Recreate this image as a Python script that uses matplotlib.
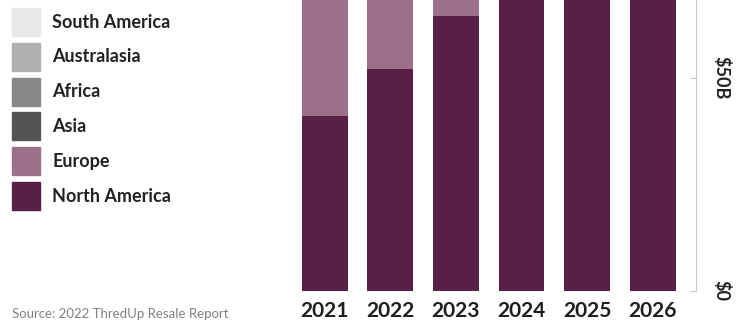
import numpy as np
import matplotlib.pyplot as plt
from matplotlib.patches import Rectangle

years = ["2021", "2022", "2023", "2024", "2025", "2026"]
regions = ["North America", "Europe", "Asia", "Africa", "Australasia", "South America"]
colors = ["#5a1f48", "#9b7088", "#555355", "#8a878a", "#b1aeb1", "#e9e8e9"]

# values in $B (upper segments run off the top of the crop)
north_america = [41.0, 52.0, 64.5, 77.0, 88.0, 99.0]
europe = [32.0, 37.0, 42.0, 47.0, 52.0, 57.0]
asia = [30.0, 34.0, 38.0, 42.0, 46.0, 50.0]
africa = [3.0, 3.0, 4.0, 4.0, 5.0, 5.0]
australasia = [3.0, 3.0, 4.0, 4.0, 4.0, 5.0]
south_america = [2.0, 2.0, 3.0, 3.0, 3.0, 3.0]
series = [north_america, europe, asia, africa, australasia, south_america]

tick_vals = [0, 50]
tick_labels = ["$0", "$50B"]

plt.rcParams['font.family'] = ['Lato', 'DejaVu Sans']

fig = plt.figure(figsize=(7.39, 3.23), dpi=100)
ax = fig.add_axes([290/739, 32/323, 406/739, 291/323])

x = np.arange(len(years))
bottom = np.zeros(len(years))
for vals, col, name in zip(series, colors, regions):
    ax.bar(x, vals, width=0.7, bottom=bottom, color=col, label=name)
    bottom += np.array(vals)

ax.set_xlim(-0.53, 5.66)
ax.set_ylim(0, 68.3)
for s in ["top", "left", "bottom"]:
    ax.spines[s].set_visible(False)
ax.spines["right"].set_color("#cccccc")
ax.yaxis.tick_right()
ax.set_yticks(tick_vals)
ax.set_yticklabels(tick_labels, rotation=-90, va="center", fontsize=13, fontweight="bold", color="#222222")
ax.tick_params(axis="y", direction="in", length=4, color="#cccccc", pad=12)
ax.set_xticks(x)
ax.set_xticklabels(years, fontsize=15, fontweight="bold", color="#1e1e1e")
ax.tick_params(axis="x", length=0, pad=7)

# legend on the left, top entry first
for i, (name, col) in enumerate(zip(regions[::-1], colors[::-1])):
    yc = 323 - (22 + i*34.8)
    fig.patches.append(Rectangle((12/739, (yc-14)/323), 28/739, 28/323,
                                 transform=fig.transFigure, color=col, figure=fig))
    fig.text(52/739, yc/323, name, fontsize=13, fontweight="bold", color="#222222", va="center")

fig.text(12/739, 9/323, "Source: 2022 ThredUp Resale Report", fontsize=9.5, color="#808080", va="center")

plt.savefig("out.png", dpi=100)
